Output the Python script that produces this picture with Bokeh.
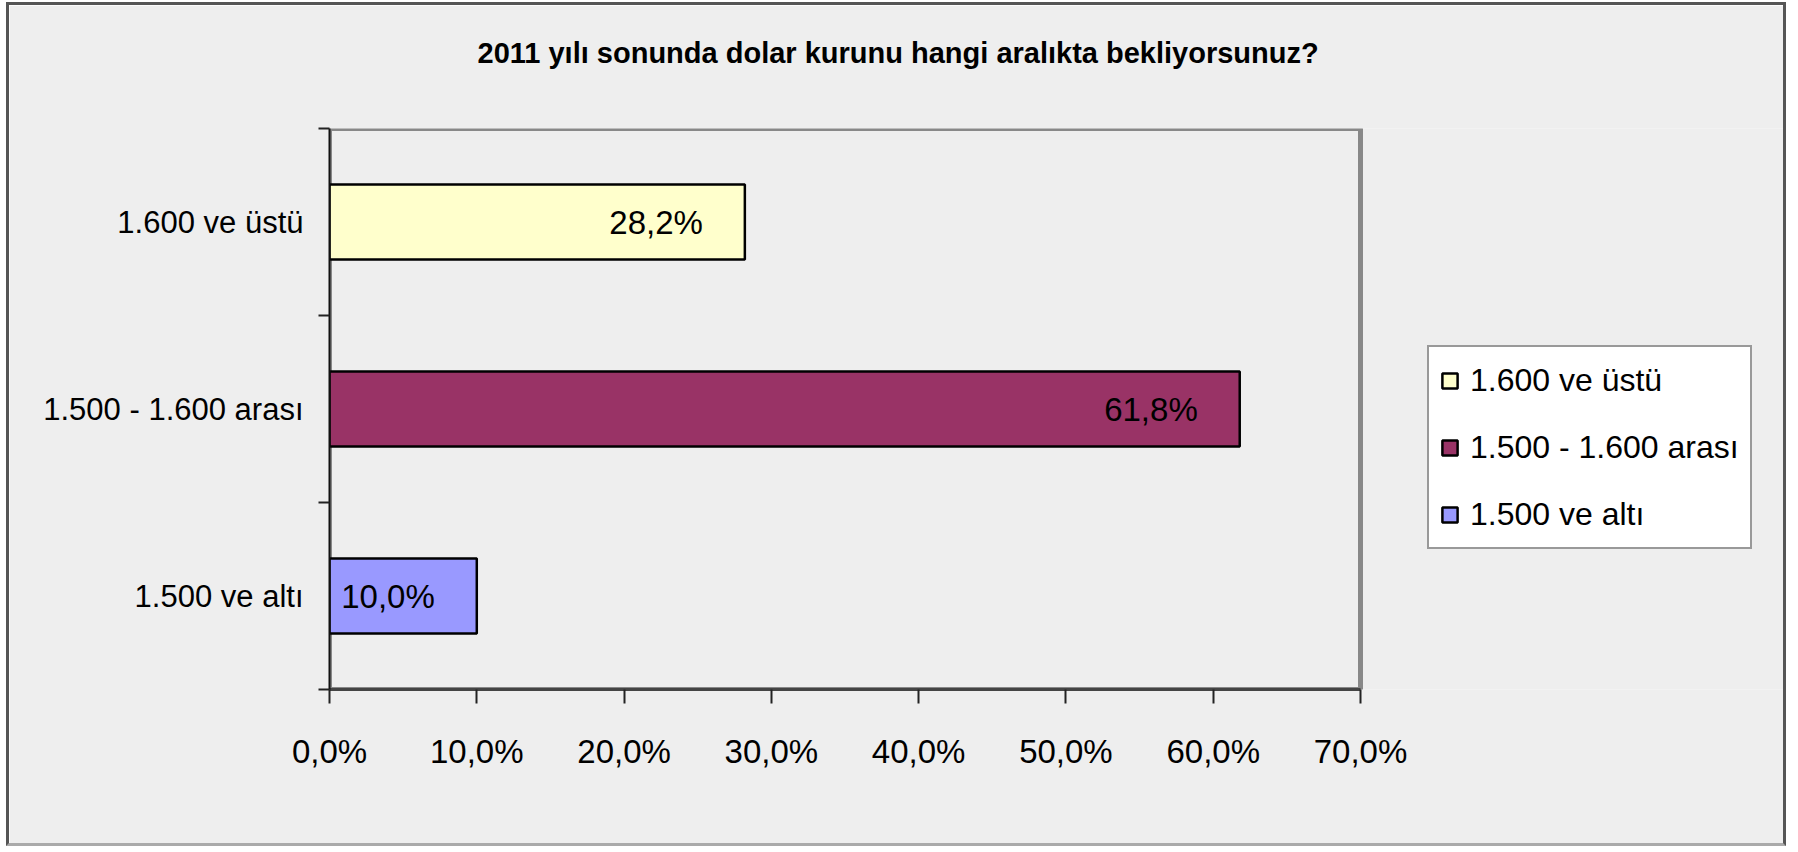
from bokeh.plotting import figure
from bokeh.models import Range1d, FixedTicker, Legend, LegendItem, ColumnDataSource
from bokeh.embed import file_html
from bokeh.resources import INLINE
from bokeh.core.properties import value

# ---- data ----
title_text = "2011 yılı sonunda dolar kurunu hangi aralıkta bekliyorsunuz?"
categories = ["1.600 ve üstü", "1.500 - 1.600 arası", "1.500 ve altı"]  # top to bottom
values = [28.2, 61.8, 10.0]
value_labels = ["28,2%", "61,8%", "10,0%"]
colors = ["#FFFFCC", "#993366", "#9999FF"]
x_ticks = [0, 10, 20, 30, 40, 50, 60, 70]
x_tick_labels = ["0,0%", "10,0%", "20,0%", "30,0%", "40,0%", "50,0%", "60,0%", "70,0%"]

FONT = "Liberation Sans"
BG = "#EEEEEE"

n = len(categories)
ypos = [n - i - 0.5 for i in range(n)]  # category centre positions (top first)

# layout (pixels)
W, H = 1780, 844
LEFT, TOP, BOTTOM = 320, 123, 160
PLOT_W = 1031            # width of the bar area (0..70 %)
FRAME_W = W - LEFT       # frame extends to the right edge so the legend fits inside it
x_max = x_ticks[-1] * FRAME_W / PLOT_W

p = figure(width=W, height=H, output_backend="svg", toolbar_location=None,
           x_range=Range1d(x_ticks[0], x_max), y_range=Range1d(0, n),
           min_border_left=LEFT, min_border_right=0,
           min_border_top=TOP, min_border_bottom=BOTTOM)
p.styles = {"border": "3px solid #555555", "border-bottom-color": "#AAAAAA",
            "margin": "2px 0 0 6px"}

p.background_fill_color = BG
p.border_fill_color = BG
p.outline_line_color = None
p.xgrid.visible = False
p.ygrid.visible = False

# title: extra empty line lifts the visible line well above the plot frame
p.title.text = title_text + "\n"
p.title.align = "left"
p.title.offset = 148
p.title.text_font = FONT
p.title.text_font_style = "bold"
p.title.text_font_size = "29px"
p.title.text_color = "black"
p.title.text_line_height = 1.7
p.title.standoff = 10

# plot-area border (top / right gray edges)
p.quad(left=[x_ticks[0]], right=[x_ticks[-1]], bottom=[0], top=[n],
       fill_color=None, line_color="#888888", line_width=5)

src = ColumnDataSource(dict(y=ypos, right=values, color=colors,
                            lab=value_labels, cat=categories))
renderers = []
for i in range(n):
    r = p.hbar(y=ypos[i], right=values[i], left=0, height=0.4,
               fill_color=colors[i], line_color="black", line_width=2.5)
    renderers.append(r)

p.text(x="right", y="y", text="lab", source=src, text_align="right",
       text_baseline="middle", x_offset=-42, text_font=value(FONT),
       text_font_size="33px", text_color="black")

# x axis
xa = p.xaxis[0]
xa.bounds = (x_ticks[0], x_ticks[-1])
xa.ticker = FixedTicker(ticks=x_ticks)
xa.major_label_overrides = {t: l for t, l in zip(x_ticks, x_tick_labels)}
xa.major_label_text_font = FONT
xa.major_label_text_font_size = "33px"
xa.major_label_text_color = "black"
xa.major_tick_out = 14
xa.major_tick_in = 0
xa.major_tick_line_color = "#222222"
xa.major_tick_line_width = 2
xa.minor_tick_line_color = None
xa.axis_line_color = "#444444"
xa.axis_line_width = 3
xa.major_label_standoff = 29

# y axis
ya = p.yaxis[0]
ya.ticker = FixedTicker(ticks=ypos, minor_ticks=list(range(n + 1)))
ya.major_label_overrides = {y: c for y, c in zip(ypos, categories)}
ya.major_label_text_font = FONT
ya.major_label_text_font_size = "31px"
ya.major_label_text_color = "black"
ya.major_tick_line_color = None
ya.major_tick_out = 0
ya.major_tick_in = 0
ya.minor_tick_out = 11
ya.minor_tick_in = 0
ya.minor_tick_line_color = "#222222"
ya.minor_tick_line_width = 2
ya.axis_line_color = "#111111"
ya.axis_line_width = 2
ya.major_label_standoff = 15

legend = Legend(items=[LegendItem(label=categories[i], renderers=[renderers[i]])
                       for i in range(n)],
                location=(1098, 140), orientation="vertical",
                label_text_font=FONT, label_text_font_size="32px",
                label_text_color="black",
                label_height=44, glyph_width=19, glyph_height=19,
                label_standoff=11, spacing=23, padding=11, margin=0,
                border_line_color="#333333", border_line_width=2,
                background_fill_color="white", background_fill_alpha=1.0)
p.add_layout(legend, "center")

open("out.html", "w").write(file_html(p, INLINE))
